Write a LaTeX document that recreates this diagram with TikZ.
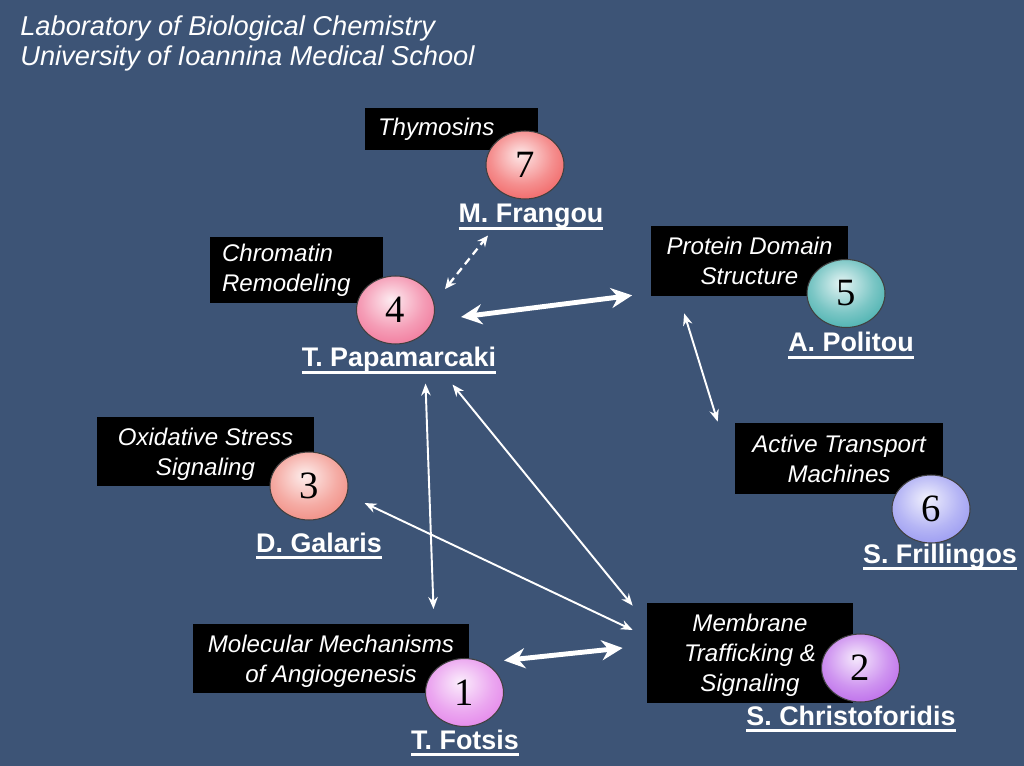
\documentclass[tikz,border=0pt]{standalone}
\usepackage{fontspec}
\setmainfont{Liberation Sans}
\newfontfamily\numfont{Liberation Serif}
\usetikzlibrary{arrows.meta,positioning,calc,shapes.geometric}
\definecolor{slidebg}{HTML}{3D5476}
\definecolor{ballseven}{HTML}{EE4444}
\definecolor{ballfour}{HTML}{EE5C86}
\definecolor{ballfive}{HTML}{22A09E}
\definecolor{ballthree}{HTML}{EE7468}
\definecolor{ballsix}{HTML}{8484EE}
\definecolor{ballone}{HTML}{DE6CE6}
\definecolor{balltwo}{HTML}{AE4CE6}
\makeatletter
\pgfdeclareradialshading[tikz@ball]{softball}{\pgfpoint{-3bp}{8bp}}{%
  color(0bp)=(tikz@ball!12!white); color(20bp)=(tikz@ball!60!white);
  color(42bp)=(tikz@ball); color(52bp)=(tikz@ball!80!black); color(70bp)=(tikz@ball!80!black)}
\makeatother
\newcommand\leadername[1]{\setbox0\hbox{#1}\leavevmode\rlap{\rule[-4pt]{\wd0}{1.6pt}}\box0}
\tikzset{
  topicbox/.style={fill=black, text=white, inner sep=0pt, align=center,
    font=\fontsize{13.7}{17}\selectfont\itshape},
  ballnode/.style={ellipse, draw=black!75, line width=0.6pt, ball color=#1, shading=softball,
    minimum width=1.56cm, minimum height=1.36cm, inner sep=0pt,
    font=\numfont\fontsize{22}{22}\selectfont},
  leader/.style={anchor=base, text=white, inner sep=0pt,
    font=\fontsize{15.3}{18}\selectfont\bfseries},
  thinlink/.style={{Stealth[length=0.24cm,width=0.19cm]}-{Stealth[length=0.24cm,width=0.19cm]}, draw=white, line width=1.1pt},
  thicklink/.style={{Stealth[length=0.42cm,width=0.4cm]}-{Stealth[length=0.42cm,width=0.4cm]}, draw=white, line width=2.8pt},
  dashlink/.style={{Stealth[length=0.22cm,width=0.2cm]}-{Stealth[length=0.22cm,width=0.2cm]}, draw=white, line width=1.3pt, dash pattern=on 0.15cm off 0.1cm}
}
\begin{document}
\begin{tikzpicture}[x=0.02cm, y=-0.02cm]
  \fill[slidebg] (0,0) rectangle (1024,766);
  \useasboundingbox (0,0) rectangle (1024,766);

  % title
  \node[anchor=base west, inner sep=0pt, text=white, font=\fontsize{15.5}{18}\selectfont\itshape] (title1) at (20,36) {Laboratory of Biological Chemistry};
  \node[anchor=base west, inner sep=0pt, text=white, font=\fontsize{15.5}{18}\selectfont\itshape] (title2) at (20,66) {University of Ioannina Medical School};

  % research topics
  \node[topicbox, align=left, inner xsep=0.26cm, text width=2.94cm, minimum height=0.84cm] (thybox) at (451.5,129) {Thymosins};
  \node[topicbox, align=left, inner xsep=0.24cm, text width=2.98cm, minimum height=1.34cm] (chrbox) at (296.5,270) {Chromatin\\Remodeling};
  \node[topicbox, text depth=0pt, minimum width=3.96cm, minimum height=1.4cm] (probox) at (749.5,261) {Protein Domain\\Structure};
  \node[topicbox, text depth=0pt, minimum width=4.34cm, minimum height=1.4cm] (oxibox) at (205.5,451.5) {Oxidative Stress\\Signaling};
  \node[topicbox, text depth=0pt, minimum width=4.16cm, minimum height=1.42cm] (actbox) at (839,458.5) {Active Transport\\Machines};
  \node[topicbox, text depth=0pt, minimum width=5.52cm, minimum height=1.38cm] (molbox) at (331,658.5) {Molecular Mechanisms\\of Angiogenesis};
  \node[topicbox, text depth=0pt, minimum width=4.12cm, minimum height=2.0cm] (membox) at (750,653) {Membrane\\Trafficking \&\\Signaling};

  % groups
  \node[ballnode=ballseven] (ball7) at (525,165) {7};
  \node[ballnode=ballfour] (ball4) at (395.5,310) {4};
  \node[ballnode=ballfive] (ball5) at (846,293.5) {5};
  \node[ballnode=ballthree] (ball3) at (309,486) {3};
  \node[ballnode=ballsix] (ball6) at (931,509) {6};
  \node[ballnode=ballone] (ball1) at (464.5,692.5) {1};
  \node[ballnode=balltwo] (ball2) at (860.5,668) {2};

  % group leaders
  \node[leader] (frangou) at (531,223) {\leadername{M. Frangou}};
  \node[leader] (papamarcaki) at (399,367) {\leadername{T. Papamarcaki}};
  \node[leader] (politou) at (851,352) {\leadername{A. Politou}};
  \node[leader] (galaris) at (319,552) {\leadername{D. Galaris}};
  \node[leader] (frillingos) at (940,563) {\leadername{S. Frillingos}};
  \node[leader] (fotsis) at (465,749) {\leadername{T. Fotsis}};
  \node[leader] (christoforidis) at (851,725) {\leadername{S. Christoforidis}};

  % collaborations
  \draw[dashlink] ([shift={(10,-21)}]ball4.east) -- ([shift={(-37,36)}]ball7.south);
  \draw[thicklink] ([shift={(26,7)}]ball4.east) -- ([shift={(-18,-1)}]probox.south west);
  \draw[thinlink] ([shift={(34,17)}]probox.south west) -- ([shift={(-17,-1)}]actbox.north west);
  \draw[thinlink] ([shift={(30,39)}]ball4.south) -- ([shift={(-31,-49)}]ball1.north);
  \draw[thinlink] ([shift={(57,40)}]ball4.south) -- ([shift={(-14,3)}]membox.north west);
  \draw[thinlink] ([shift={(16,17)}]ball3.east) -- ([shift={(-14,-23)}]membox.west);
  \draw[thicklink] ([shift={(0,-32)}]ball1.east) -- ([shift={(-24,-5)}]membox.west);
\end{tikzpicture}
\end{document}
